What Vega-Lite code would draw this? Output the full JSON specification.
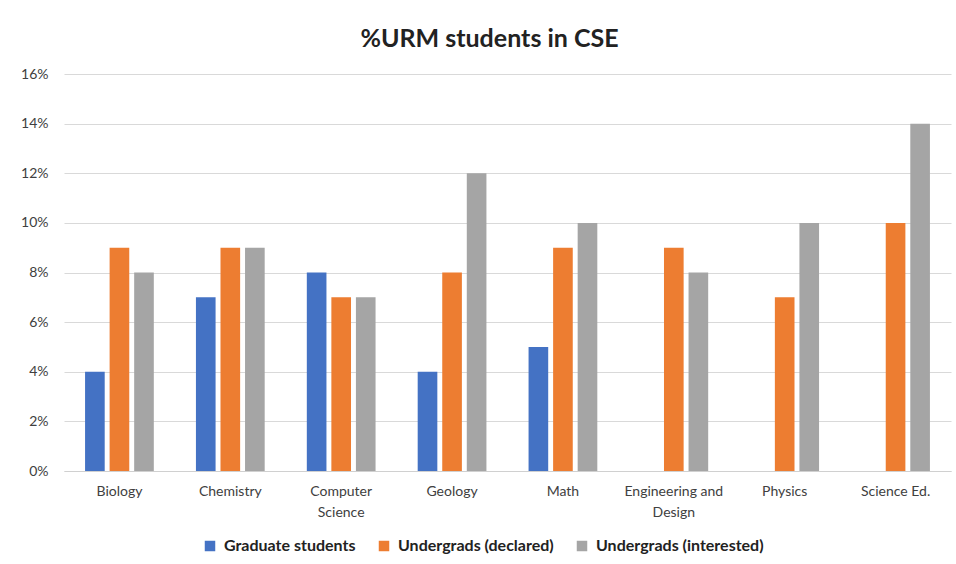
{
  "$schema": "https://vega.github.io/schema/vega-lite/v6.json",
  "width": 887,
  "height": 397,
  "autosize": "none",
  "padding": {"left": 64, "top": 74, "right": 5, "bottom": 93},
  "background": "white",
  "title": {
    "text": "%URM students in CSE",
    "font": "Lato",
    "fontSize": 25,
    "fontWeight": "bold",
    "color": "#222222",
    "anchor": "middle",
    "dx": -18,
    "offset": 15
  },
  "data": {
    "values": [
      {"field": "Biology", "group": "Graduate students", "value": 0.04},
      {"field": "Biology", "group": "Undergrads (declared)", "value": 0.09},
      {"field": "Biology", "group": "Undergrads (interested)", "value": 0.08},
      {"field": "Chemistry", "group": "Graduate students", "value": 0.07},
      {"field": "Chemistry", "group": "Undergrads (declared)", "value": 0.09},
      {"field": "Chemistry", "group": "Undergrads (interested)", "value": 0.09},
      {"field": "Computer Science", "group": "Graduate students", "value": 0.08},
      {"field": "Computer Science", "group": "Undergrads (declared)", "value": 0.07},
      {"field": "Computer Science", "group": "Undergrads (interested)", "value": 0.07},
      {"field": "Geology", "group": "Graduate students", "value": 0.04},
      {"field": "Geology", "group": "Undergrads (declared)", "value": 0.08},
      {"field": "Geology", "group": "Undergrads (interested)", "value": 0.12},
      {"field": "Math", "group": "Graduate students", "value": 0.05},
      {"field": "Math", "group": "Undergrads (declared)", "value": 0.09},
      {"field": "Math", "group": "Undergrads (interested)", "value": 0.10},
      {"field": "Engineering and Design", "group": "Undergrads (declared)", "value": 0.09},
      {"field": "Engineering and Design", "group": "Undergrads (interested)", "value": 0.08},
      {"field": "Physics", "group": "Undergrads (declared)", "value": 0.07},
      {"field": "Physics", "group": "Undergrads (interested)", "value": 0.10},
      {"field": "Science Ed.", "group": "Undergrads (declared)", "value": 0.10},
      {"field": "Science Ed.", "group": "Undergrads (interested)", "value": 0.14}
    ]
  },
  "mark": {"type": "bar"},
  "encoding": {
    "x": {
      "field": "field",
      "type": "nominal",
      "sort": ["Biology", "Chemistry", "Computer Science", "Geology", "Math", "Engineering and Design", "Physics", "Science Ed."],
      "scale": {"paddingInner": 0.38, "paddingOuter": 0.19},
      "axis": {
        "title": null,
        "labelAngle": 0,
        "ticks": false,
        "domainColor": "#d0d0d0",
        "labelPadding": 13,
        "labelFont": "Lato",
        "labelFontSize": 14,
        "labelColor": "#404040",
        "labelLineHeight": 21,
        "labelExpr": "datum.label == 'Computer Science' ? ['Computer', 'Science'] : datum.label == 'Engineering and Design' ? ['Engineering and', 'Design'] : datum.label"
      }
    },
    "xOffset": {
      "field": "group",
      "type": "nominal",
      "scale": {"paddingInner": 0.2, "paddingOuter": 0, "domain": ["Graduate students", "Undergrads (declared)", "Undergrads (interested)"]}
    },
    "y": {
      "field": "value",
      "type": "quantitative",
      "scale": {"domain": [0, 0.16]},
      "axis": {
        "title": null,
        "format": ".0%",
        "values": [0, 0.02, 0.04, 0.06, 0.08, 0.1, 0.12, 0.14, 0.16],
        "domain": false,
        "ticks": false,
        "labelPadding": 16,
        "gridColor": "#d9d9d9",
        "labelFont": "Lato",
        "labelFontSize": 14,
        "labelColor": "#404040"
      }
    },
    "color": {
      "field": "group",
      "type": "nominal",
      "scale": {
        "domain": ["Graduate students", "Undergrads (declared)", "Undergrads (interested)"],
        "range": ["#4472C4", "#ED7D31", "#A5A5A5"]
      },
      "legend": {
        "title": null,
        "orient": "none",
        "direction": "horizontal",
        "legendX": 138,
        "legendY": 464,
        "symbolType": "square",
        "symbolSize": 110,
        "symbolStrokeWidth": 0,
        "labelFont": "Lato",
        "labelFontSize": 16,
        "labelFontWeight": "bold",
        "labelColor": "#222222",
        "labelLimit": 0,
        "columnPadding": 20,
        "labelOffset": 6
      }
    }
  },
  "config": {"view": {"stroke": null}}
}
